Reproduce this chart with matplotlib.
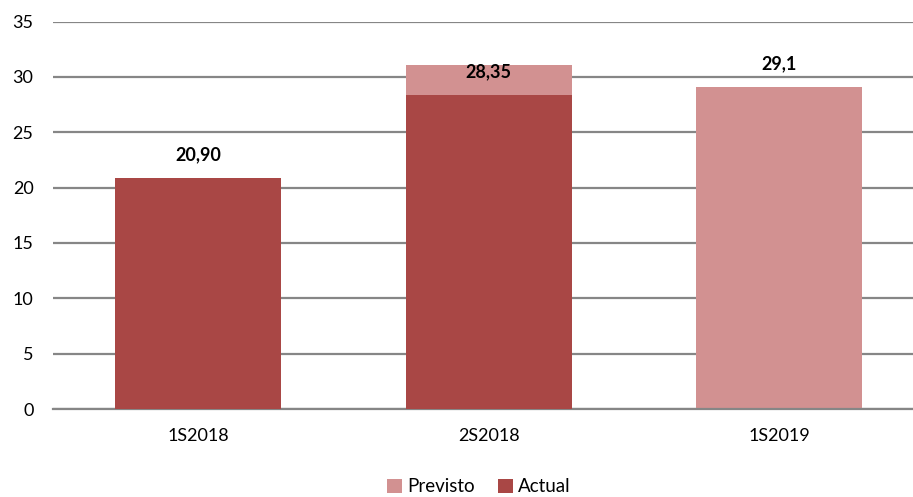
import numpy as np
import matplotlib
matplotlib.use('Agg')
import matplotlib.pyplot as plt

categories = ['1S2018', '2S2018', '1S2019']
previsto = [0, 31.1, 29.1]
actual = [20.9, 28.35, 0]
label_values = [20.9, 28.35, 29.1]
label_texts = ['20,90', '28,35', '29,1']

plt.rcParams['font.family'] = ['Lato', 'DejaVu Sans']

c_prev = '#D29191'
c_act = '#A94745'
c_grid = '#868686'

fig = plt.figure(figsize=(9.13, 4.97), dpi=100)
ax = fig.add_axes([53 / 913, 1 - 409 / 497, 1 - 53 / 913, (409 - 21.5) / 497])

x = np.arange(len(categories))
w = 0.57
ax.bar(x, previsto, width=w, color=c_prev, zorder=2, label='Previsto')
ax.bar(x, actual, width=w, color=c_act, zorder=3, label='Actual')

for xi, v, t in zip(x, label_values, label_texts):
    ax.annotate(t, (xi, v), xytext=(0, 16.5), textcoords='offset points',
                ha='center', va='center', fontsize=13, fontweight='bold', zorder=4)

ax.set_xlim(-0.5, -0.5 + (913 - 53) / 290.5)
ax.set_ylim(0, 35)
ax.set_yticks(range(0, 36, 5))
ax.set_xticks(x)
ax.set_xticklabels(categories)
ax.yaxis.grid(True, color=c_grid, linewidth=1.6, zorder=0)
ax.set_axisbelow(True)
for s in ['top', 'right', 'left']:
    ax.spines[s].set_visible(False)
ax.spines['bottom'].set_color(c_grid)
ax.spines['bottom'].set_linewidth(1.6)
ax.tick_params(axis='y', length=0, pad=14, labelsize=13)
ax.tick_params(axis='x', length=0, pad=14, labelsize=13)

fig.legend(loc='center', bbox_to_anchor=(479 / 913, 1 - 487 / 497), ncol=2,
           frameon=False, fontsize=13.5, handlelength=0.8, handleheight=0.8,
           handletextpad=0.3, columnspacing=1.2)

fig.savefig('out.png', dpi=100)
